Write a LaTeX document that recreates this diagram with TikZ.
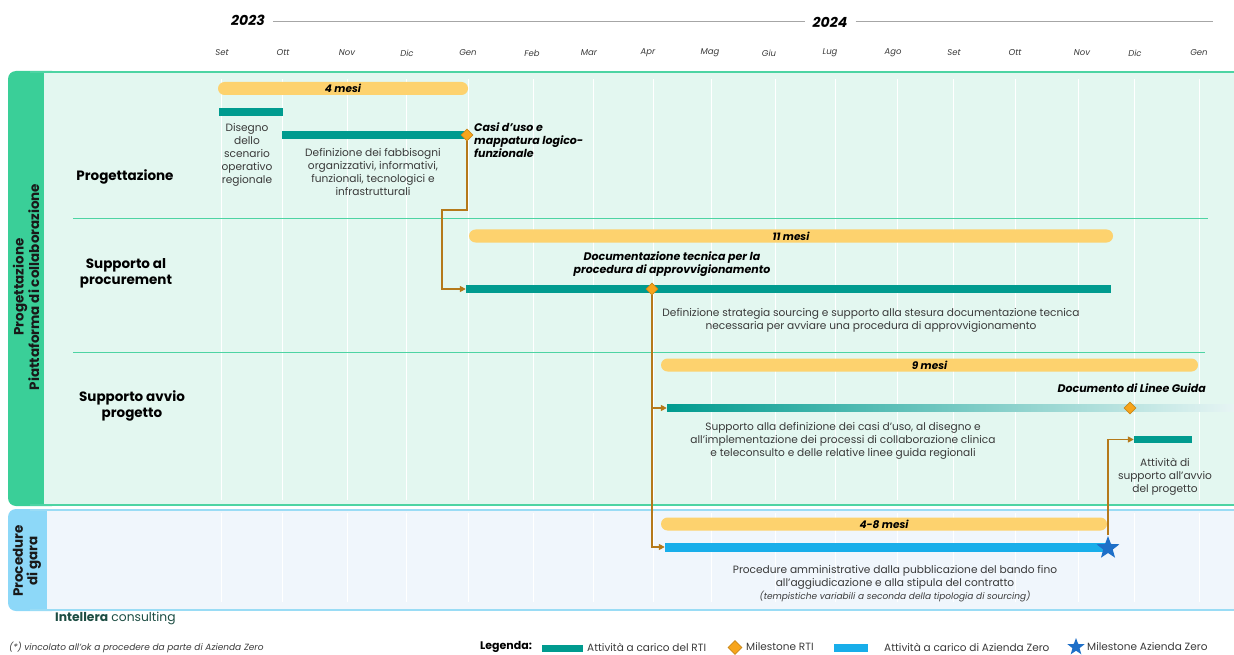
\documentclass[tikz,border=0pt]{standalone}
\usepackage{fontspec}
\setmainfont{Poppins}
\usetikzlibrary{arrows.meta,shapes.geometric}
\definecolor{teal1}{HTML}{009B8F}
\definecolor{teallight}{HTML}{D6EEEC}
\definecolor{yell}{HTML}{FDD26E}
\definecolor{gstrip}{HTML}{3ACF98}
\definecolor{gfill}{HTML}{E3F7F0}
\definecolor{gline}{HTML}{4DD4A3}
\definecolor{bstrip}{HTML}{8DD8F8}
\definecolor{bfill}{HTML}{F0F6FC}
\definecolor{bline}{HTML}{9ADCF5}
\definecolor{bluebar}{HTML}{18AEEA}
\definecolor{starblue}{HTML}{1E6FC8}
\definecolor{brownc}{HTML}{B5791A}
\definecolor{dfill}{HTML}{F7A51C}
\definecolor{ddraw}{HTML}{C98719}
\definecolor{brand}{HTML}{1D4D43}
\definecolor{txt}{HTML}{3A3A3A}
\begin{document}
\begin{tikzpicture}[x=1pt,y=-1pt,
  year/.style={font=\fontsize{14}{16}\selectfont\bfseries\itshape, inner sep=0},
  month/.style={font=\fontsize{8.5}{9}\selectfont\itshape, text=txt, inner sep=0},
  hdr/.style={draw=gray!70, line width=0.8pt},
  grid/.style={draw=white, line width=1pt},
  sep/.style={draw=gline, line width=0.8pt},
  rowlab/.style={font=\fontsize{13.5}{16}\selectfont\bfseries, align=center, inner sep=0},
  striplab/.style={font=\fontsize{13.5}{14.5}\selectfont\bfseries, align=center, inner sep=0, text=black!90},
  dur/.style={fill=yell, rounded corners=6.5pt, minimum height=13pt, inner sep=0, font=\fontsize{10.5}{11}\selectfont\bfseries\itshape},
  tealbar/.style={fill=teal1, inner sep=0, minimum height=8pt},
  bluebarst/.style={fill=bluebar, inner sep=0, minimum height=9pt},
  desc/.style={font=\fontsize{10.6}{13}\selectfont, text=txt, align=center, inner sep=0},
  mlab/.style={font=\fontsize{11}{13}\selectfont\bfseries\itshape, inner sep=0},
  ms/.style={diamond, fill=dfill, draw=ddraw, line width=0.6pt, minimum size=12pt, inner sep=0},
  msstar/.style={star, star points=5, star point ratio=2.4, fill=starblue, minimum size=24pt, inner sep=0},
  conn/.style={draw=brownc, line width=1.6pt, -{Triangle[length=6pt,width=6pt]}},
  leg/.style={font=\fontsize{10.5}{12}\selectfont, text=txt, anchor=west, inner sep=0}
]
\useasboundingbox (0,0) rectangle (1234,655);

% header
\node[year] (y23) at (248,20) {2023};
\node[year] (y24) at (830,22) {2024};
\coordinate (hend) at (1213,21);
\draw[hdr] ([xshift=8pt]y23.east |- 0,21) -- ([xshift=-8pt]y24.west |- 0,21);
\draw[hdr] ([xshift=8pt]y24.east |- 0,21) -- (hend);
\foreach \x/\m [count=\i] in {222/Set,283/Ott,347/Nov,407/Dic,468/Gen,532/Feb,589/Mar,648/Apr,710/Mag,769/Giu,830/Lug,893/Ago,954/Set,1015/Ott,1082/Nov,1135/Dic,1199/Gen}
  \node[month] (mo\i) at (\x,53) {\m};

% green panel
\fill[gstrip, rounded corners=8pt] (8,71) rectangle (60,506);
\fill[gfill] (44,73) rectangle (1234,504);
\draw[gline, line width=2pt] (30,72) -- (1234,72);
\draw[gline, line width=2.5pt] (30,505) -- (1234,505);
% blue panel
\fill[bstrip, rounded corners=8pt] (8,509) rectangle (60,611);
\fill[bfill] (47,511) rectangle (1234,609);
\draw[bline, line width=2pt] (30,510) -- (1234,510);
\draw[bline, line width=2pt] (30,610) -- (1234,610);

% grid lines
\foreach \x in {221,282,347,406,468,533,593,653,711,775,835,897,953,1015,1078,1134,1199}{
  \draw[grid] (\x,79) -- (\x,500);
  \draw[grid] (\x,513) -- (\x,602);
}

% separators
\draw[sep] (73,218) -- (1208,218);
\draw[sep] (73,352) -- (1205,352);

% strip labels
\node[striplab, rotate=90] (s1) at (26,287) {Progettazione\\Piattaforma di collaborazione};
\node[striplab, rotate=90] (s2) at (27,561) {Procedure\\di gara};

% row labels
\node[rowlab] (r1) at (125,177) {Progettazione};
\node[rowlab] (r2) at (126,273) {Supporto al\\procurement};
\node[rowlab] (r3) at (132,406) {Supporto avvio\\progetto};

% row 1
\node[dur, minimum width=250pt] (d1) at (343,88.5) {4 mesi};
\node[tealbar, minimum width=64pt] (b1) at (251,112) {};
\node[desc] (t1) at (247,155) {Disegno\\dello\\scenario\\operativo\\regionale};
\node[tealbar, minimum width=184pt] (b2) at (374,135) {};
\node[desc] (t2) at (373,171.5) {Definizione dei fabbisogni\\organizzativi, informativi,\\funzionali, tecnologici e\\infrastrutturali};
\node[ms] (m1) at (467,135) {};
\node[mlab, align=left, anchor=west] (l1) at (474,140) {Casi d’uso e\\mappatura logico-\\funzionale};

% row 2
\node[dur, minimum width=644pt] (d2) at (791,236) {11 mesi};
\node[mlab, align=center] (l2) at (672,264) {Documentazione tecnica per la\\procedura di approvvigionamento};
\node[tealbar, minimum width=645pt] (b3) at (788.5,289) {};
\node[ms] (m2) at (652,289) {};
\node[desc] (t3) at (871,320) {Definizione strategia sourcing e supporto alla stesura documentazione tecnica\\necessaria per avviare una procedura di approvvigionamento};

% row 3
\node[dur, minimum width=537pt] (d3) at (929.5,365) {9 mesi};
\node[mlab, anchor=east] (l3) at (1206,388) {Documento di Linee Guida};
\node[inner sep=0, minimum width=567pt, minimum height=7pt, left color=teal1, right color=teallight!60] (b4) at (950.5,408) {};
\node[ms] (m3) at (1130,408) {};
\node[desc] (t4) at (843,441) {Supporto alla definizione dei casi d’uso, al disegno e\\all’implementazione dei processi di collaborazione clinica\\e teleconsulto e delle relative linee guida regionali};
\node[tealbar, minimum width=58pt, minimum height=7pt] (b5) at (1163,439.5) {};
\node[desc] (t5) at (1165,477) {Attività di\\supporto all’avvio\\del progetto};

% row 4
\node[dur, minimum width=446pt] (d4) at (884,524) {4-8 mesi};
\node[bluebarst, minimum width=442pt] (b6) at (886,547) {};
\node[desc] (t6) at (895,584) {Procedure amministrative dalla pubblicazione del bando fino\\all’aggiudicazione e alla stipula del contratto\\{\fontsize{9}{11}\selectfont\itshape (tempistiche variabili a seconda della tipologia di sourcing)}};

% connectors
\coordinate (c1) at (442,210);
\draw[conn] (m1.south) |- (c1) |- (b3.west);
\draw[conn] (m2.south) |- (b4.west);
\draw[conn] (m2.south) |- (b6.west);
\node[msstar] (st) at (1108,548) {};
\draw[conn] (st.north) |- (b5.west);

% footer
\node[anchor=west, inner sep=0, font=\fontsize{12.3}{14}\selectfont, text=brand] (brandn) at (55,618) {\textbf{Intellera} consulting};
\node[anchor=west, inner sep=0, font=\fontsize{9}{10}\selectfont\itshape, text=txt] (note) at (9,647.5) {(*) vincolato all’ok a procedere da parte di Azienda Zero};

% legend
\node[leg, font=\fontsize{11}{12}\selectfont\bfseries, text=black] (lg0) at (480,647) {Legenda:};
\node[tealbar, minimum width=41pt, minimum height=7pt] (lg1) at (562,648) {};
\node[leg] (lg1t) at (587,647) {Attività a carico del RTI};
\node[ms, minimum size=14pt] (lg2) at (735,647.5) {};
\node[leg] (lg2t) at (746,647) {Milestone RTI};
\node[bluebarst, minimum width=34pt, minimum height=8pt] (lg3) at (851,648) {};
\node[leg] (lg3t) at (884,647) {Attività a carico di Azienda Zero};
\node[msstar, minimum size=18pt] (lg4) at (1076,647) {};
\node[leg] (lg4t) at (1087,647) {Milestone Azienda Zero};
\end{tikzpicture}
\end{document}
